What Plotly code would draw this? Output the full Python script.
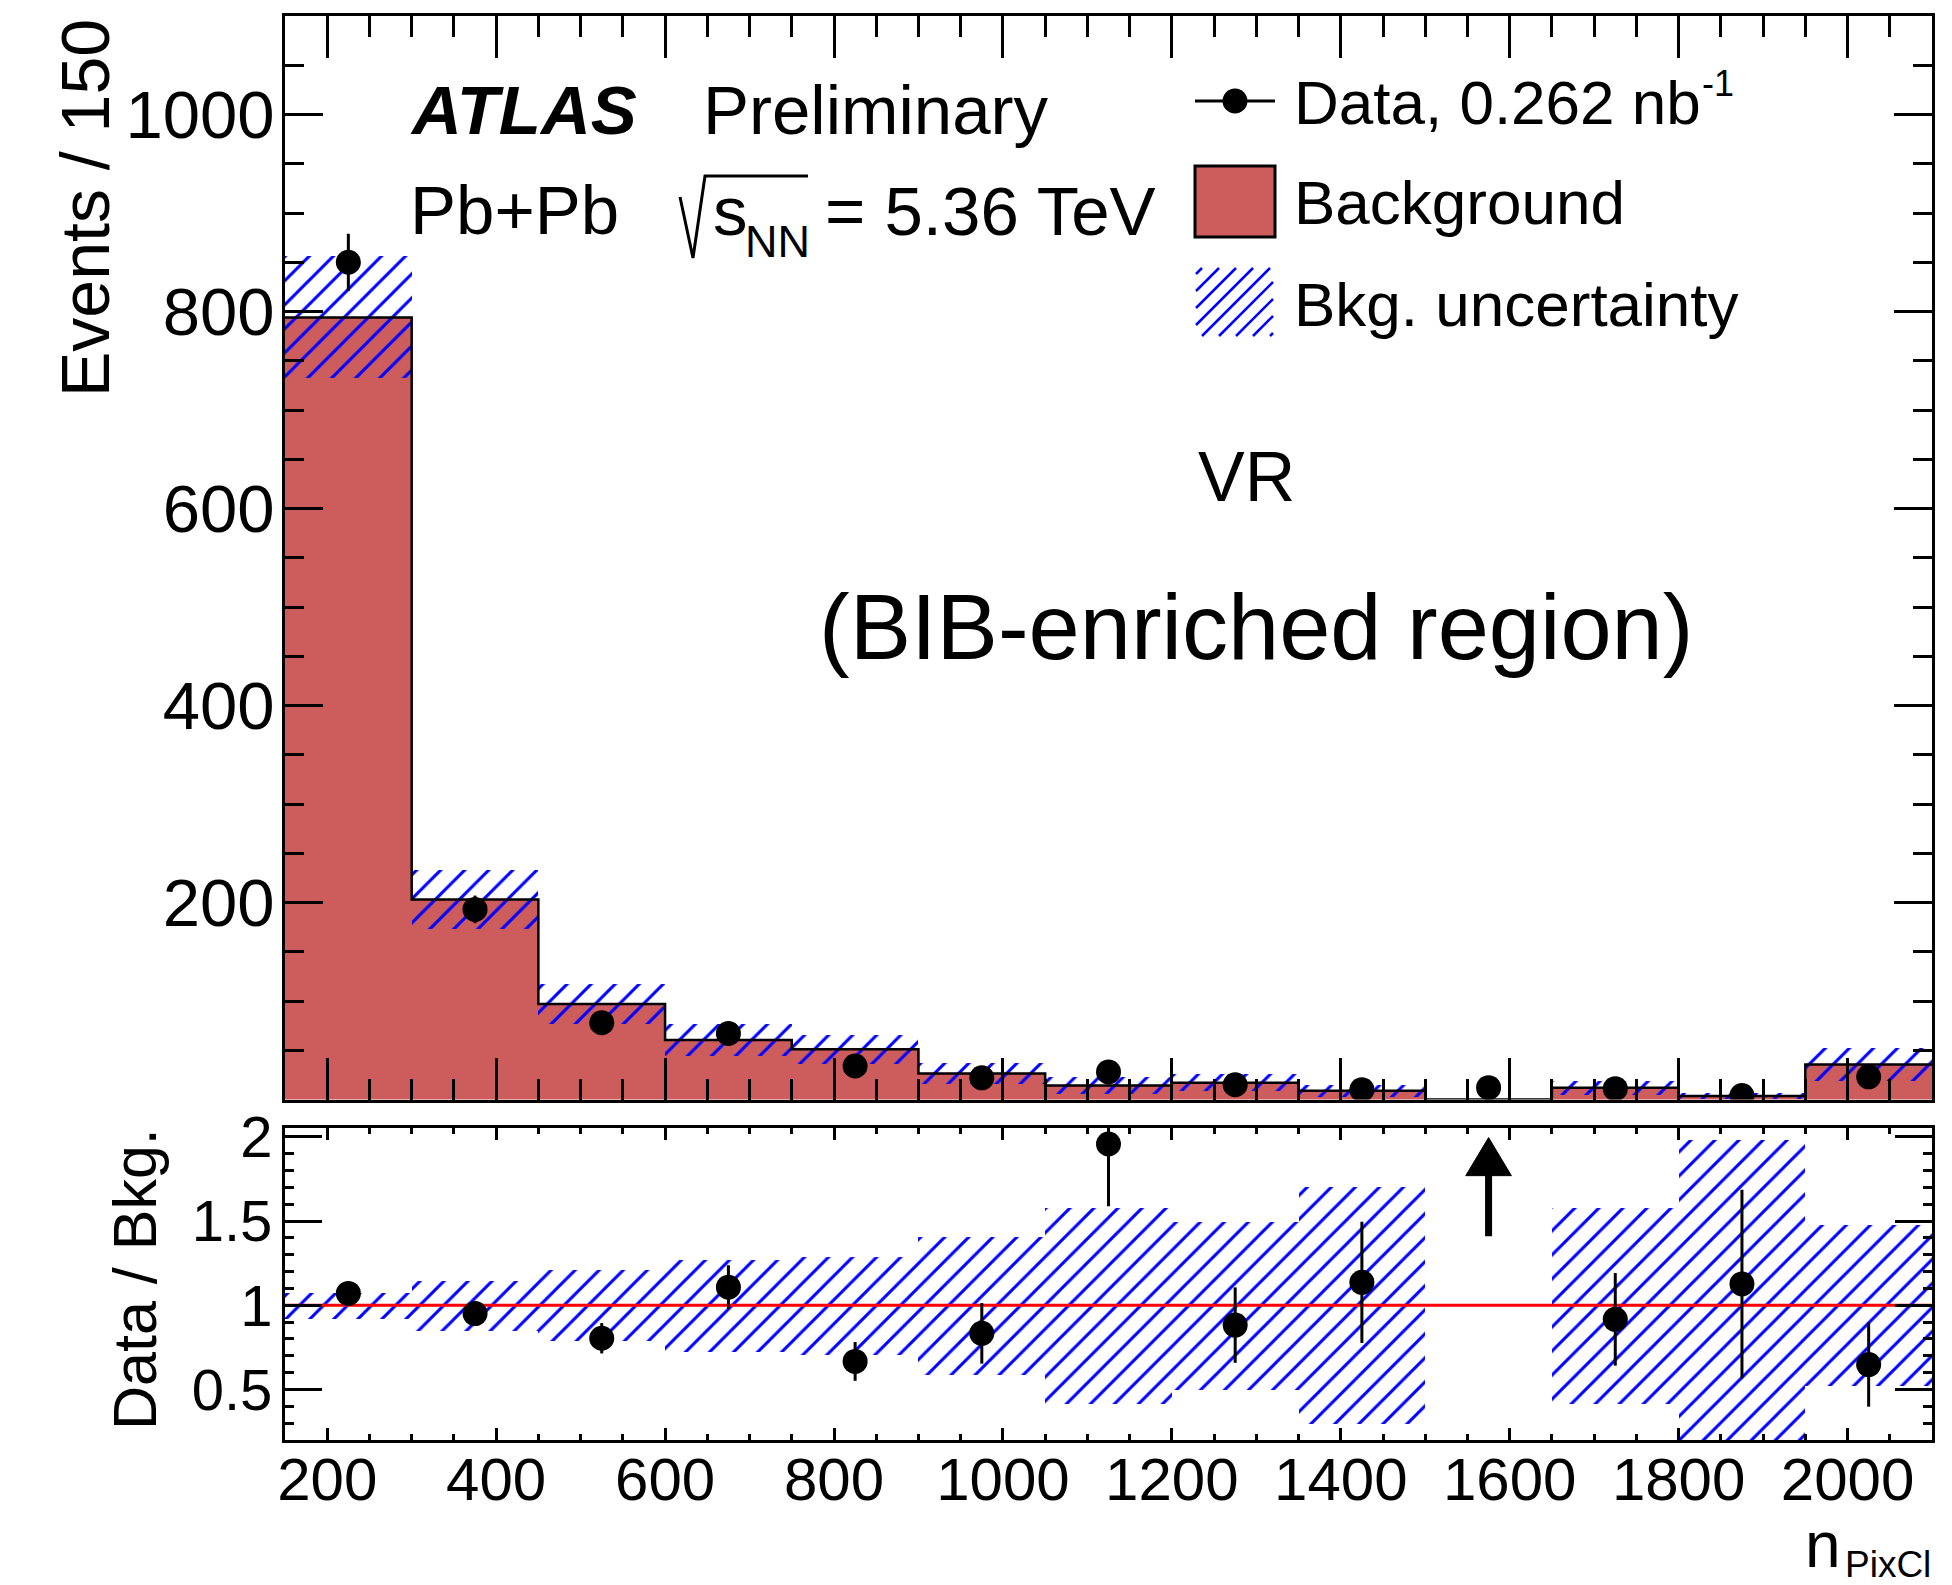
import plotly.graph_objects as go

# ---- histogram content (n_PixCl, 150-wide bins) ----
bin_edges = [150, 300, 450, 600, 750, 900, 1050, 1200, 1350, 1500, 1650, 1800, 1950, 2100]
bkg = [794, 203, 97, 60.5, 51, 26.4, 14.3, 17, 8.8, 0, 12, 3.55, 35.5]
bkg_unc = [62, 30, 20.5, 16.5, 14.8, 10.8, 8.3, 8.5, 6.2, 0, 7, 3.5, 17]
data = [850, 193, 78, 67, 34, 22, 28, 15, 10, 12, 11, 4, 23]
data_err = [29, 14, 9, 8, 6, 5, 5, 4, 3, 3.5, 3.3, 2, 5]
ratio_err = [0.035, 0.07, 0.09, 0.13, 0.115, 0.18, 0.37, 0.224, 0.36, None, 0.275, 0.56, 0.25]

x_ticks = [200, 400, 600, 800, 1000, 1200, 1400, 1600, 1800, 2000]
y_ticks = [0, 200, 400, 600, 800, 1000]
y_ticktext = ["", "200", "400", "600", "800", "1000"]

centers = [(a + b) / 2 for a, b in zip(bin_edges[:-1], bin_edges[1:])]
bin_width = bin_edges[1] - bin_edges[0]
ratio = [d / b if b > 0 else None for d, b in zip(data, bkg)]
rel_unc = [u / b if b > 0 else None for u, b in zip(bkg_unc, bkg)]

FONT = "Liberation Sans, Arial, Helvetica, sans-serif"
FILL = "#CD5C5C"
HATCH = dict(shape="/", size=17, solidity=0.18, fillmode="replace")

# ---- canvas geometry (pixels) ----
W, H = 1952, 1585
L, R, T, B = 285, 1932, 16, 1440


def fx(p):
    return (p - L) / (R - L)


def fy(p):
    return (B - p) / (B - T)


fig = go.Figure()

# upper panel: background, outline, uncertainty band, data
fig.add_trace(go.Bar(x=centers, y=bkg, width=bin_width, marker=dict(color=FILL, line=dict(width=0)),
                     xaxis="x", yaxis="y", showlegend=False))
fig.add_trace(go.Scatter(x=bin_edges, y=bkg + [bkg[-1]], mode="lines", line=dict(color="black", width=2.5, shape="hv"),
                         xaxis="x", yaxis="y", showlegend=False))
fig.add_trace(go.Bar(x=centers, y=[2 * u if u > 0 else None for u in bkg_unc],
                     base=[b - u for b, u in zip(bkg, bkg_unc)], width=bin_width,
                     marker=dict(color="blue", pattern=HATCH, line=dict(width=0)),
                     xaxis="x", yaxis="y", showlegend=False))
fig.add_trace(go.Scatter(x=centers, y=data, mode="markers", marker=dict(size=25, color="black"),
                         error_y=dict(type="data", array=data_err, thickness=3, width=0, color="black"),
                         xaxis="x", yaxis="y", showlegend=False))

# lower panel: relative uncertainty, unity line, ratio
fig.add_trace(go.Bar(x=centers, y=[2 * r if r is not None else None for r in rel_unc],
                     base=[1 - r if r is not None else None for r in rel_unc], width=bin_width,
                     marker=dict(color="blue", pattern=HATCH, line=dict(width=0)),
                     xaxis="x2", yaxis="y2", showlegend=False))
fig.add_trace(go.Scatter(x=[bin_edges[0], bin_edges[-1]], y=[1, 1], mode="lines", line=dict(color="red", width=3),
                         xaxis="x2", yaxis="y2", showlegend=False))
fig.add_trace(go.Scatter(x=centers, y=ratio, mode="markers", marker=dict(size=25, color="black"),
                         error_y=dict(type="data", array=[e if e is not None else 0 for e in ratio_err],
                                      thickness=3, width=0, color="black"),
                         xaxis="x2", yaxis="y2", showlegend=False))

axis_common = dict(showgrid=False, zeroline=False, showline=True, linecolor="black", linewidth=3,
                   mirror="allticks", ticks="inside", tickcolor="black", tickwidth=2.5, automargin=False,
                   tickfont=dict(family=FONT, size=60, color="black"))

fig.update_layout(
    width=W, height=H, autosize=False,
    margin=dict(l=L, r=W - R, t=T, b=H - B, pad=0, autoexpand=False),
    paper_bgcolor="white", plot_bgcolor="white",
    barmode="overlay", bargap=0, showlegend=False,
    font=dict(family=FONT, color="black"),
    xaxis=dict(axis_common, domain=[0, 1], anchor="y", range=[bin_edges[0], bin_edges[-1]],
               tickmode="array", tickvals=x_ticks, showticklabels=False, ticklen=42,
               minor=dict(dtick=50, tick0=0, ticklen=21, ticks="inside", tickwidth=2.5, tickcolor="black"),
               matches="x2"),
    yaxis=dict(axis_common, domain=[fy(1099.5), 1], anchor="x", range=[0, 1100],
               tickmode="array", tickvals=y_ticks, ticktext=y_ticktext, ticklen=38,
               tickfont=dict(family=FONT, size=67, color="black"), ticklabelstandoff=-6,
               minor=dict(tickmode="linear", dtick=50, tick0=0, ticklen=19, ticks="inside",
                          tickwidth=2.5, tickcolor="black")),
    xaxis2=dict(axis_common, domain=[0, 1], anchor="y2", range=[bin_edges[0], bin_edges[-1]],
                tickmode="array", tickvals=x_ticks, ticklen=12, ticklabelstandoff=-15,
                minor=dict(tickmode="linear", dtick=50, tick0=0, ticklen=6, ticks="inside",
                           tickwidth=2.5, tickcolor="black")),
    yaxis2=dict(axis_common, domain=[0, fy(1127.5)], anchor="x2", range=[0.2, 2.056],
                tickmode="linear", tick0=0, dtick=0.5, ticklen=37, ticklabelstandoff=-2,
                tickfont=dict(family=FONT, size=58, color="black"),
                minor=dict(tickmode="linear", dtick=0.1, tick0=0, ticklen=9, ticks="inside",
                           tickwidth=2.5, tickcolor="black")),
)

ann = []


def text(s, x, y, size, xanchor="left", yanchor="middle", angle=0):
    ann.append(dict(text=s, x=fx(x), y=fy(y), xref="paper", yref="paper", showarrow=False,
                    xanchor=xanchor, yanchor=yanchor, textangle=angle,
                    font=dict(family=FONT, size=size, color="black")))


# labels
text("<b><i>ATLAS</i></b>", 408, 110, 69)
text("Preliminary", 701, 110, 69)
text("Pb+Pb", 408, 211, 69)
text("s", 711, 212, 69)
text("NN", 743, 241, 45)
text("= 5.36 TeV", 823, 212, 69)
text("VR", 1246, 477, 70, xanchor="center")
text("(BIB-enriched region)", 1256, 627, 92, xanchor="center")

# legend text
text("Data, 0.262 nb", 1292, 103, 62)
text("-1", 1700, 84, 36)
text("Background", 1292, 202, 62)
text("Bkg. uncertainty", 1292, 304, 62)

# axis titles
text("Events / 150", 85, 208, 68, xanchor="center", angle=-90)
text("Data / Bkg.", 135, 1279, 61, xanchor="center", angle=-90)
text("n", 1843, 1545, 64, xanchor="right")
text("PixCl", 1843, 1565, 37)

shapes = []


def pline(x0, y0, x1, y1, color="black", width=3):
    shapes.append(dict(type="line", xref="paper", yref="paper", x0=fx(x0), y0=fy(y0), x1=fx(x1), y1=fy(y1),
                       line=dict(color=color, width=width)))


# square-root sign over s_NN
shapes.append(dict(type="path", xref="paper", yref="paper",
                   path="M {:.5f},{:.5f} L {:.5f},{:.5f} L {:.5f},{:.5f} L {:.5f},{:.5f}".format(
                       fx(680), fy(197), fx(693), fy(258), fx(705), fy(176), fx(808), fy(176)),
                   line=dict(color="black", width=3)))

# legend: data marker
pline(1195, 101, 1275, 101, width=3)
shapes.append(dict(type="circle", xref="paper", yref="paper", x0=fx(1222.5), x1=fx(1247.5),
                   y0=fy(113.5), y1=fy(88.5), fillcolor="black", line=dict(color="black", width=0)))
# legend: background box
shapes.append(dict(type="rect", xref="paper", yref="paper", x0=fx(1195), x1=fx(1275), y0=fy(237), y1=fy(166),
                   fillcolor=FILL, line=dict(color="black", width=3)))
# legend: hatched box
hx0, hy0, hx1, hy1, step = 1196, 268, 1273, 336, 17
k = hx0 + hy0 + 6
while k < hx1 + hy1:
    xa, xb = max(hx0, k - hy1), min(hx1, k - hy0)
    if xb - xa > 1:
        pline(xa, k - xa, xb, k - xb, color="blue", width=2.5)
    k += step

# arrow for the ratio point above the range (bin with no background)
for c, b, d in zip(centers, bkg, data):
    if b == 0 and d > 0:
        half = 27
        shapes.append(dict(type="line", xref="x2", yref="y2", x0=c, x1=c, y0=1.41, y1=1.80,
                           line=dict(color="black", width=7)))
        shapes.append(dict(type="path", xref="x2", yref="y2",
                           path=f"M {c - half},1.77 L {c + half},1.77 L {c},1.996 Z",
                           fillcolor="black", line=dict(color="black", width=1)))

fig.update_layout(annotations=ann, shapes=shapes)
fig.write_html("out.html")
